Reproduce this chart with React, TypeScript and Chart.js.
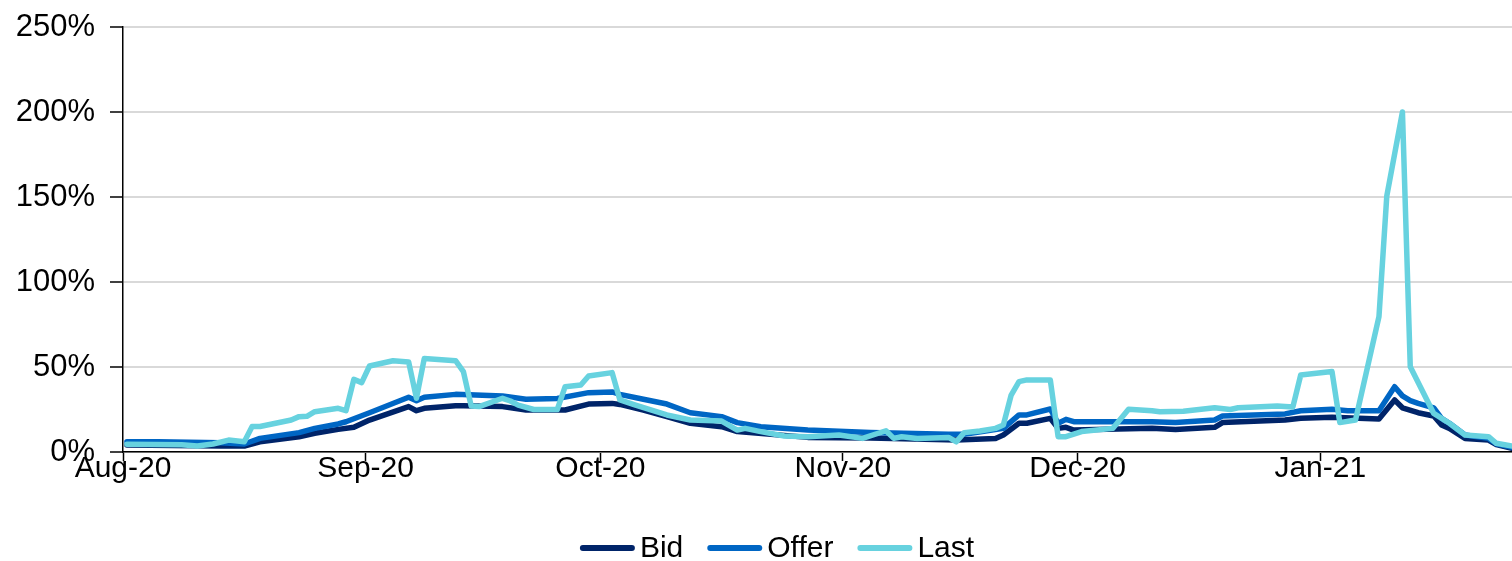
import React, { useEffect, useRef } from "react";
import { Chart, registerables } from "chart.js";

Chart.register(...registerables);

// Day offsets count from 1 Aug 2020; each value sits in the middle of its day slot.
const monthStarts = [0, 31, 61, 92, 122, 153];
const monthLabels = ["Aug-20", "Sep-20", "Oct-20", "Nov-20", "Dec-20", "Jan-21"];
const lastDayEnd = 177.5;

const bidDays = [0, 12, 15, 17, 22, 24, 27, 29, 31, 36, 37, 38, 42, 43, 48, 51, 56, 59, 62, 63, 66, 69, 72, 76, 78, 87, 95, 106, 111, 112, 114, 115, 118, 119, 120, 121, 131, 134, 139, 140, 148, 150, 154, 160, 162, 163, 165, 167, 168, 169, 171, 174, 175, 177];
const bidValues = [4.1, 3.5, 3.5, 6, 9, 11, 13.3, 14.5, 18.8, 26.7, 24.3, 25.7, 27.2, 27.2, 26.7, 24.7, 24.7, 28.2, 28.6, 28, 24.7, 20.8, 16.9, 14.9, 12, 8.6, 8.3, 7, 8, 10, 16.9, 16.9, 19.8, 13.9, 14.5, 12.9, 13.9, 13.3, 14.5, 17.3, 18.8, 19.8, 20.4, 19.4, 30.6, 26, 23.1, 21.2, 15.9, 13.9, 8, 7, 4.3, 2.2];

const offerDays = [0, 4, 12, 15, 17, 22, 24, 27, 28, 31, 36, 37, 38, 42, 48, 51, 55, 59, 62, 63, 66, 69, 72, 76, 78, 81, 87, 95, 105, 107, 112, 114, 115, 118, 119, 120, 121, 131, 134, 139, 140, 148, 150, 154, 156, 160, 162, 163, 164, 165, 167, 168, 169, 171, 174, 175, 177];
const offerValues = [6, 6, 5.5, 4.7, 8, 11.4, 13.9, 16.5, 17.8, 23.1, 32.2, 30.2, 32.2, 33.9, 33, 31, 31.5, 34.9, 35.3, 33.9, 31, 28.2, 23.1, 20.8, 17.3, 14.9, 12.9, 11.4, 10.4, 10.4, 13.9, 21.8, 21.8, 25.3, 16.9, 19.2, 17.8, 17.8, 17.3, 18.8, 21.2, 22.4, 24.3, 25.1, 24.3, 24.3, 38.4, 33, 30.2, 28.6, 26, 19.8, 16.9, 10, 8, 4.8, 2.7];

const lastDays = [0, 7, 9, 11, 13, 15, 16, 17, 21, 22, 23, 24, 27, 28, 29, 30, 31, 34, 36, 37, 38, 42, 43, 44, 45, 48, 49, 50, 52, 55, 56, 58, 59, 62, 63, 65, 69, 72, 76, 78, 79, 81, 84, 87, 91, 94, 97, 98, 99, 101, 105, 106, 107, 109, 111, 112, 113, 114, 115, 118, 119, 120, 122, 126, 128, 131, 132, 135, 139, 141, 142, 147, 149, 150, 154, 155, 157, 160, 161, 163, 164, 167, 169, 171, 174, 175, 177];
const lastValues = [4.5, 4.2, 3.5, 4.7, 7, 6, 15, 15, 18.8, 20.8, 21, 23.7, 25.7, 24.3, 42.7, 40.8, 50.6, 53.7, 53, 31.6, 55, 53.7, 47.3, 27, 26.7, 31.6, 30, 27.6, 25, 25, 38.4, 39.4, 44.7, 46.7, 30.6, 27.6, 21.8, 18.8, 18.2, 12.9, 13.9, 12, 9.4, 9, 10, 8, 12.5, 8, 9, 8, 8.6, 6, 11.4, 12.4, 13.9, 15.9, 33.5, 41.4, 42.4, 42.4, 9, 9, 12, 13.9, 25.1, 24.3, 23.7, 24, 26, 25, 26, 27, 26.5, 45.3, 47.3, 17.3, 18.8, 79.6, 150.6, 200, 50.2, 22.7, 16.9, 10, 9, 5.1, 3.5];

const seriesNames = ["Bid", "Offer", "Last"];
const seriesColors = ["#002469", "#0066C4", "#67D2DF"];

const FONT = "'Liberation Sans', Arial, sans-serif";
const FONT_SIZE = 30;

const toPoints = (days: number[], values: number[]) =>
  days.map((d, i) => ({ x: d + 0.5, y: values[i] }));

// Legend drawn under the axis: rounded line sample followed by the series name.
const lineLegend = {
  id: "lineLegend",
  afterDraw(chart: any) {
    const ctx = chart.ctx as CanvasRenderingContext2D;
    const sample = 55;
    const gap = 5;
    const itemGap = 24;
    const y = 548;
    const centerX = 777;
    ctx.save();
    ctx.font = `${FONT_SIZE}px ${FONT}`;
    const items = chart.data.datasets.map((ds: any) => ({
      label: ds.label as string,
      color: ds.borderColor as string,
      w: ctx.measureText(ds.label).width,
    }));
    const total =
      items.reduce((s: number, it: any) => s + sample + gap + it.w, 0) +
      itemGap * (items.length - 1);
    let x = centerX - total / 2;
    items.forEach((it: any) => {
      ctx.beginPath();
      ctx.lineCap = "round";
      ctx.lineWidth = 6;
      ctx.strokeStyle = it.color;
      ctx.moveTo(x + 3, y);
      ctx.lineTo(x + sample - 3, y);
      ctx.stroke();
      ctx.fillStyle = "#000";
      ctx.textBaseline = "middle";
      ctx.textAlign = "left";
      ctx.fillText(it.label, x + sample + gap, y + 1);
      x += sample + gap + it.w + itemGap;
    });
    ctx.restore();
  },
};

export default function App() {
  const canvasRef = useRef<HTMLCanvasElement | null>(null);

  useEffect(() => {
    document.body.style.margin = "0";
    const canvas = canvasRef.current;
    if (!canvas) return;

    const seriesData = [
      toPoints(bidDays, bidValues),
      toPoints(offerDays, offerValues),
      toPoints(lastDays, lastValues),
    ];

    const chart = new Chart(canvas, {
      type: "line",
      data: {
        datasets: seriesNames.map((name, i) => ({
          label: name,
          data: seriesData[i],
          borderColor: seriesColors[i],
          backgroundColor: seriesColors[i],
          borderWidth: 5.5,
          pointRadius: 0,
          pointHoverRadius: 0,
          tension: 0,
          borderJoinStyle: "round" as const,
          borderCapStyle: "round" as const,
          order: seriesNames.length - i,
        })),
      },
      options: {
        animation: false,
        responsive: false,
        devicePixelRatio: 1,
        layout: { padding: { top: 27, right: 0, bottom: 69, left: 0 } },
        plugins: {
          legend: { display: false },
          tooltip: { enabled: false },
        },
        scales: {
          x: {
            type: "linear",
            min: 0,
            max: lastDayEnd,
            afterBuildTicks: (scale: any) => {
              scale.ticks = monthStarts.map((v) => ({ value: v }));
            },
            afterFit: (scale: any) => {
              scale.height = 40;
            },
            ticks: {
              autoSkip: false,
              maxRotation: 0,
              padding: -10,
              color: "#000",
              font: { family: FONT, size: FONT_SIZE },
              callback: (value: any) => {
                const idx = monthStarts.indexOf(Number(value));
                return idx >= 0 ? monthLabels[idx] : "";
              },
            },
            grid: {
              drawOnChartArea: false,
              drawTicks: true,
              tickLength: 9,
              tickColor: "#000",
              tickWidth: 1.5,
            },
            border: { display: true, color: "#000", width: 1.5 },
          },
          y: {
            min: 0,
            max: 250,
            afterFit: (scale: any) => {
              scale.width = 123;
              scale.paddingTop = 0;
              scale.paddingBottom = 0;
            },
            ticks: {
              stepSize: 50,
              padding: 15,
              color: "#000",
              font: { family: FONT, size: 31 },
              callback: (value: any) => `${value}%`,
            },
            grid: {
              color: "#d9d9d9",
              lineWidth: 2,
              drawTicks: true,
              tickLength: 13,
              tickColor: "#000",
              tickWidth: 1.5,
            },
            border: { display: true, color: "#000", width: 1.5 },
          },
        },
      },
      plugins: [lineLegend],
    });

    return () => chart.destroy();
  }, []);

  return (
    <div style={{ width: 1512, height: 561, background: "#fff" }}>
      <canvas ref={canvasRef} width={1512} height={561} />
    </div>
  );
}
